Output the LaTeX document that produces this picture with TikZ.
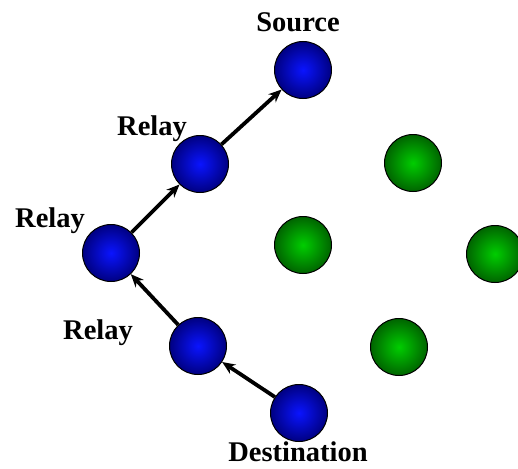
\documentclass[tikz,border=0pt]{standalone}
\usepackage{fontspec}
\setmainfont{Liberation Serif}
\usetikzlibrary{arrows.meta}
\definecolor{bluein}{RGB}{10,20,255}
\definecolor{blueout}{RGB}{0,0,130}
\definecolor{greenin}{RGB}{0,205,0}
\definecolor{greenout}{RGB}{0,100,0}
\begin{document}
\begin{tikzpicture}[>={Stealth[length=13pt,width=11pt]},x=1pt,y=-1pt,line width=3.8pt,
    bluenode/.style={circle,draw=black,line width=1pt,minimum size=57pt,inner sep=0pt,
        inner color=bluein,outer color=blueout},
    greennode/.style={circle,draw=black,line width=1pt,minimum size=57pt,inner sep=0pt,
        inner color=greenin,outer color=greenout},
    tag/.style={anchor=base,inner sep=0pt,font=\fontsize{28.5}{30}\selectfont\bfseries}]
    \useasboundingbox (0,0) rectangle (518,468);
    % path nodes
    \node[bluenode] (src) at (303,70) {};
    \node[bluenode] (rlyA) at (200,164) {};
    \node[bluenode] (rlyB) at (111,253) {};
    \node[bluenode] (rlyC) at (198,346) {};
    \node[bluenode] (dst) at (299,413) {};
    % other nodes
    \node[greennode] (gA) at (413,163) {};
    \node[greennode] (gB) at (303,245) {};
    \node[greennode] (gC) at (495,254) {};
    \node[greennode] (gD) at (399,347) {};
    % labels
    \node[tag] (srcname) at (298,32) {Source};
    \node[tag] (rlyAname) at (152,135) {Relay};
    \node[tag] (rlyBname) at (50,227) {Relay};
    \node[tag] (rlyCname) at (98,339) {Relay};
    \node[tag] (dstname) at (298,461) {Destination};
    % hops
    \draw[->] (dst) -- (rlyC);
    \draw[->] (rlyC) -- (rlyB);
    \draw[->] (rlyB) -- (rlyA);
    \draw[->] (rlyA) -- (src);
\end{tikzpicture}
\end{document}
